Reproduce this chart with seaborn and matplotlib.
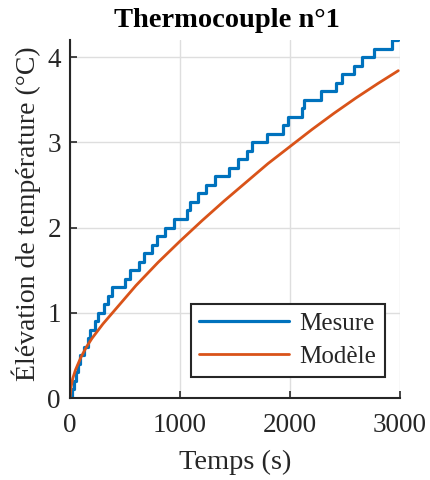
import matplotlib
matplotlib.use("Agg")
import matplotlib.pyplot as plt
import seaborn as sns
import pandas as pd

# Measured temperature rise: time (s) at which each 0.1 °C level is first reached
mesure_t = [0, 15, 35, 55, 75, 95, 130, 160, 185, 225, 258, 310, 345, 380, 500,
            545, 625, 675, 745, 795, 860, 950, 1065, 1095, 1160, 1240, 1315, 1445,
            1525, 1605, 1655, 1790, 1935, 1980, 2110, 2130, 2285, 2415, 2470, 2585,
            2655, 2765, 2925, 2985]
mesure_v = [0.0, 0.1, 0.2, 0.3, 0.4, 0.5, 0.6, 0.7, 0.8, 0.9, 1.0, 1.1, 1.2, 1.3, 1.4,
            1.5, 1.6, 1.7, 1.8, 1.9, 2.0, 2.1, 2.2, 2.3, 2.4, 2.5, 2.6, 2.7,
            2.8, 2.9, 3.0, 3.1, 3.2, 3.3, 3.4, 3.5, 3.6, 3.7, 3.8, 3.9,
            4.0, 4.1, 4.2, 4.2]

# Model prediction
modele_t = [0, 10, 25, 50, 100, 150, 200, 300, 400, 500, 600, 800, 1000, 1200,
            1400, 1600, 1800, 2000, 2200, 2400, 2600, 2800, 2985]
modele_v = [0.0, 0.13, 0.23, 0.33, 0.48, 0.60, 0.70, 0.87, 1.02, 1.17, 1.32, 1.59,
            1.84, 2.08, 2.31, 2.53, 2.75, 2.95, 3.15, 3.34, 3.52, 3.69, 3.84]

x_ticks = [0, 1000, 2000, 3000]
y_ticks = [0, 1, 2, 3, 4]

sns.set_theme(style="whitegrid")
plt.rcParams["font.family"] = ["Liberation Serif", "DejaVu Serif"]

axis_col = "#262626"
fig = plt.figure(figsize=(4.31, 4.8), dpi=100)
ax = fig.add_axes([0.1624, 0.1708, 0.7656, 0.7459])

df_m = pd.DataFrame({"t": mesure_t, "v": mesure_v})
df_p = pd.DataFrame({"t": modele_t, "v": modele_v})

sns.lineplot(data=df_m, x="t", y="v", ax=ax, color="#0072BD", linewidth=2.3,
             drawstyle="steps-post", label="Mesure", sort=False, estimator=None)
sns.lineplot(data=df_p, x="t", y="v", ax=ax, color="#D95319", linewidth=2.0,
             label="Modèle", sort=False, estimator=None)

ax.set_xlim(0, 3000)
ax.set_ylim(0, 4.2)
ax.set_xticks(x_ticks)
ax.set_yticks(y_ticks)
ax.set_xticklabels([str(v) for v in x_ticks])
ax.set_yticklabels([str(v) for v in y_ticks])

ax.set_facecolor("white")
ax.grid(True, color="#dedede", linewidth=1.0)
for side in ("top", "right"):
    ax.spines[side].set_visible(False)
for side in ("left", "bottom"):
    ax.spines[side].set_visible(True)
    ax.spines[side].set_color(axis_col)
    ax.spines[side].set_linewidth(1.5)

ax.tick_params(axis="both", direction="in", length=5, width=1.2, color=axis_col,
               labelcolor=axis_col, labelsize=19.5, bottom=True, left=True)
ax.tick_params(axis="x", pad=10.5)
ax.tick_params(axis="y", pad=6.5)

ax.set_xlabel("Temps (s)", fontsize=20.5, color=axis_col, labelpad=9)
ax.set_ylabel("Élévation de température (°C)", fontsize=20, color=axis_col)
ax.yaxis.set_label_coords(-0.087, 0.515)
ax.set_title("Thermocouple n°1", fontsize=20.5, fontweight="bold", color="black",
             x=0.476, pad=9)

leg = ax.legend(loc="lower right", bbox_to_anchor=(0.955, 0.059), fontsize=18,
                frameon=True, fancybox=False, handlelength=3.6, handletextpad=0.4,
                borderpad=0.35, labelspacing=0.42, borderaxespad=0)
leg.get_frame().set_edgecolor(axis_col)
leg.get_frame().set_linewidth(1.5)
leg.get_frame().set_alpha(1.0)
for txt in leg.get_texts():
    txt.set_color(axis_col)

fig.savefig("out.png", dpi=100, facecolor="white")
